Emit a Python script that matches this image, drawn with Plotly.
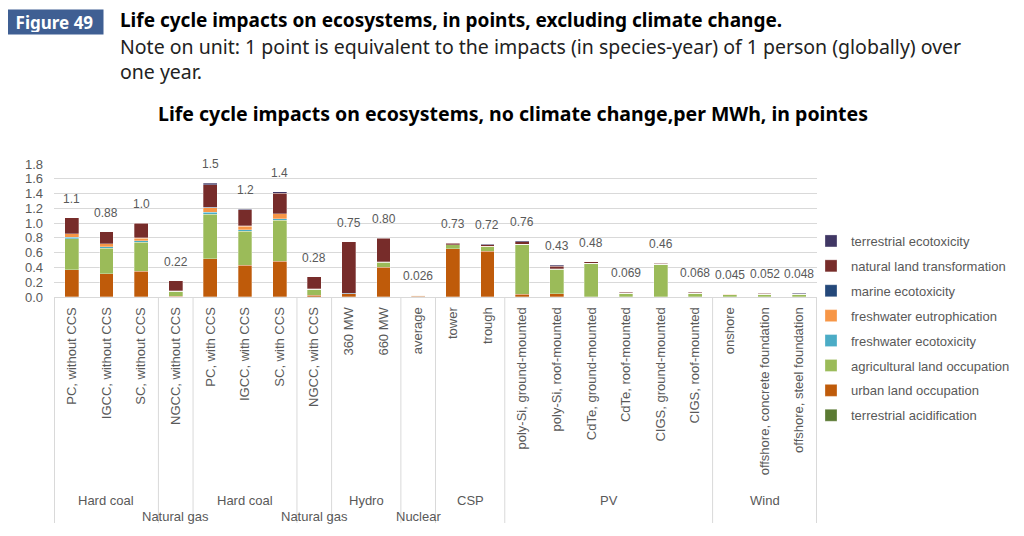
import plotly.graph_objects as go

categories = ["PC, without CCS", "IGCC, without CCS", "SC, without CCS", "NGCC, without CCS",
              "PC, with CCS", "IGCC, with CCS", "SC, with CCS", "NGCC, with CCS",
              "360 MW", "660 MW", "average", "tower", "trough",
              "poly-Si, ground-mounted", "poly-Si, roof-mounted", "CdTe, ground-mounted",
              "CdTe, roof-mounted", "CIGS, ground-mounted", "CIGS, roof-mounted",
              "onshore", "offshore, concrete foundation", "offshore, steel foundation"]
groups = ["Hard coal", "Natural gas", "Hard coal", "Natural gas", "Hydro", "Nuclear", "CSP", "PV", "Wind"]
group_sizes = [3, 1, 3, 1, 2, 1, 2, 6, 3]

terrestrial_acidification = [0.003, 0.003, 0.003, 0.002, 0.004, 0.003, 0.004, 0.002, 0.001, 0.002, 0.001,
                             0.001, 0.001, 0.001, 0.001, 0.001, 0.001, 0.001, 0.001, 0.001, 0.001, 0.001]
urban_land_occupation = [0.366, 0.31, 0.345, 0.005, 0.514, 0.425, 0.478, 0.02, 0.045, 0.403, 0.008,
                         0.655, 0.615, 0.035, 0.044, 0.004, 0.004, 0.004, 0.004, 0.003, 0.004, 0.004]
agricultural_land_occupation = [0.42, 0.35, 0.39, 0.07, 0.605, 0.46, 0.555, 0.08, 0.0, 0.065, 0.01,
                                0.048, 0.065, 0.675, 0.33, 0.45, 0.045, 0.435, 0.044, 0.028, 0.032, 0.03]
freshwater_ecotoxicity = [0.02, 0.02, 0.02, 0.002, 0.025, 0.022, 0.022, 0.003, 0.0, 0.002, 0.001,
                          0.001, 0.001, 0.002, 0.002, 0.001, 0.001, 0.001, 0.001, 0.001, 0.001, 0.001]
freshwater_eutrophication = [0.045, 0.035, 0.04, 0.002, 0.06, 0.05, 0.065, 0.003, 0.001, 0.002, 0.001,
                             0.002, 0.002, 0.002, 0.003, 0.001, 0.001, 0.001, 0.001, 0.001, 0.001, 0.001]
marine_ecotoxicity = [0.003, 0.003, 0.003, 0.002, 0.005, 0.004, 0.005, 0.003, 0.001, 0.004, 0.001,
                      0.001, 0.001, 0.002, 0.003, 0.001, 0.001, 0.001, 0.001, 0.001, 0.001, 0.001]
natural_land_transformation = [0.215, 0.16, 0.2, 0.135, 0.307, 0.22, 0.275, 0.16, 0.7, 0.315, 0.003,
                               0.022, 0.025, 0.033, 0.03, 0.016, 0.014, 0.015, 0.014, 0.009, 0.011, 0.009]
terrestrial_ecotoxicity = [0.004, 0.003, 0.006, 0.002, 0.017, 0.006, 0.02, 0.004, 0.002, 0.01, 0.001,
                           0.004, 0.005, 0.01, 0.017, 0.002, 0.002, 0.002, 0.002, 0.001, 0.001, 0.001]
total_labels = ["1.1", "0.88", "1.0", "0.22", "1.5", "1.2", "1.4", "0.28", "0.75", "0.80", "0.026",
                "0.73", "0.72", "0.76", "0.43", "0.48", "0.069", "0.46", "0.068", "0.045", "0.052", "0.048"]

series = [
    ("terrestrial acidification", terrestrial_acidification, "#5B7A33"),
    ("urban land occupation", urban_land_occupation, "#BF5B0A"),
    ("agricultural land occupation", agricultural_land_occupation, "#9BBB59"),
    ("freshwater ecotoxicity", freshwater_ecotoxicity, "#4BACC6"),
    ("freshwater eutrophication", freshwater_eutrophication, "#F79646"),
    ("marine ecotoxicity", marine_ecotoxicity, "#24487A"),
    ("natural land transformation", natural_land_transformation, "#772C2A"),
    ("terrestrial ecotoxicity", terrestrial_ecotoxicity, "#403764"),
]

# the page body has an 8px margin: figure is placed at (8, 8)
OFF = 8
W, H = 1008, 520
L = 54 - OFF
R = W - (817 - OFF)
T = 164 - OFF
B = H - (297 - OFF)
plot_h = H - T - B
plot_w = W - L - R
TXT = "#595959"
FONT = "Liberation Sans, Arial, sans-serif"


def py(px):
    return (H - B - (px - OFF)) / plot_h


def pxp(px):
    return (px - OFF - L) / plot_w


fig = go.Figure()
n = len(series)
for i, (name, vals, col) in enumerate(series):
    fig.add_trace(go.Bar(x=categories, y=vals, name=name, legendgroup=name, legendrank=100 + n - i,
                         marker=dict(color=col, line=dict(width=0.6, color="rgba(255,255,255,0.5)"))))

totals = [sum(s[1][i] for s in series) for i in range(len(categories))]
for c, t, lab in zip(categories, totals, total_labels):
    fig.add_annotation(x=c, y=t, text=lab, showarrow=False, yanchor="bottom", yshift=10,
                       font=dict(size=12, color=TXT, family=FONT))

# group separators and labels
bounds = [-0.5]
for s in group_sizes:
    bounds.append(bounds[-1] + s)
for b in bounds:
    fig.add_shape(type="line", xref="x", yref="paper", x0=b, x1=b, y0=py(297), y1=py(523),
                  line=dict(color="#D9D9D9", width=1))
for g, s, a, b in zip(groups, group_sizes, bounds[:-1], bounds[1:]):
    ypix = 517 if s == 1 else 501
    fig.add_annotation(x=(a + b) / 2, y=py(ypix), xref="x", yref="paper", yanchor="middle", text=g,
                       showarrow=False, font=dict(size=13, color=TXT, family=FONT))

# header
fig.add_annotation(xref="paper", yref="paper", x=pxp(5), y=py(9), xanchor="left", yanchor="top",
                   width=93, height=20, borderpad=2, bgcolor="#3F5F93",
                   text="<b>Figure 49</b>", showarrow=False,
                   font=dict(size=17, color="white", family="Noto Sans"))
fig.add_annotation(xref="paper", yref="paper", x=pxp(118), y=py(20), xanchor="left", yanchor="middle",
                   text="<b>Life cycle impacts on ecosystems, in points, excluding climate change.</b>",
                   showarrow=False, font=dict(size=19, color="black", family="Noto Sans"))
fig.add_annotation(xref="paper", yref="paper", x=pxp(118), y=py(59), xanchor="left", yanchor="middle",
                   align="left",
                   text="Note on unit: 1 point is equivalent to the impacts (in species-year) of 1 person (globally) over<br>one year.",
                   showarrow=False, font=dict(size=19.5, color="#222222", family="Noto Sans"))
fig.add_annotation(xref="paper", yref="paper", x=pxp(513), y=py(113), yanchor="middle",
                   text="<b>Life cycle impacts on ecosystems, no climate change,per MWh, in pointes</b>",
                   showarrow=False, font=dict(size=19.5, color="black", family="Noto Sans"))

fig.update_layout(
    width=W, height=H, margin=dict(l=L, r=R, t=T, b=B, autoexpand=False),
    barmode="stack", bargap=0.6,
    plot_bgcolor="white", paper_bgcolor="white",
    font=dict(family=FONT, size=13, color=TXT),
    showlegend=True,
    legend=dict(x=pxp(811), y=py(226), xanchor="left", yanchor="top",
                traceorder="grouped", tracegroupgap=5, font=dict(size=13, color=TXT),
                itemwidth=30, bgcolor="rgba(0,0,0,0)", maxheight=400),
    xaxis=dict(type="category", tickangle=-90, showgrid=False, showline=True, linecolor="#D9D9D9",
               ticks="", tickfont=dict(size=13, color=TXT), ticklabelstandoff=4),
    yaxis=dict(range=[0, 1.8], dtick=0.2, tickformat=".1f", showgrid=True, gridcolor="#D9D9D9",
               zeroline=False, showline=False, ticks="", tickfont=dict(size=13, color=TXT),
               ticklabelstandoff=10),
)

fig.write_html("out.html")
